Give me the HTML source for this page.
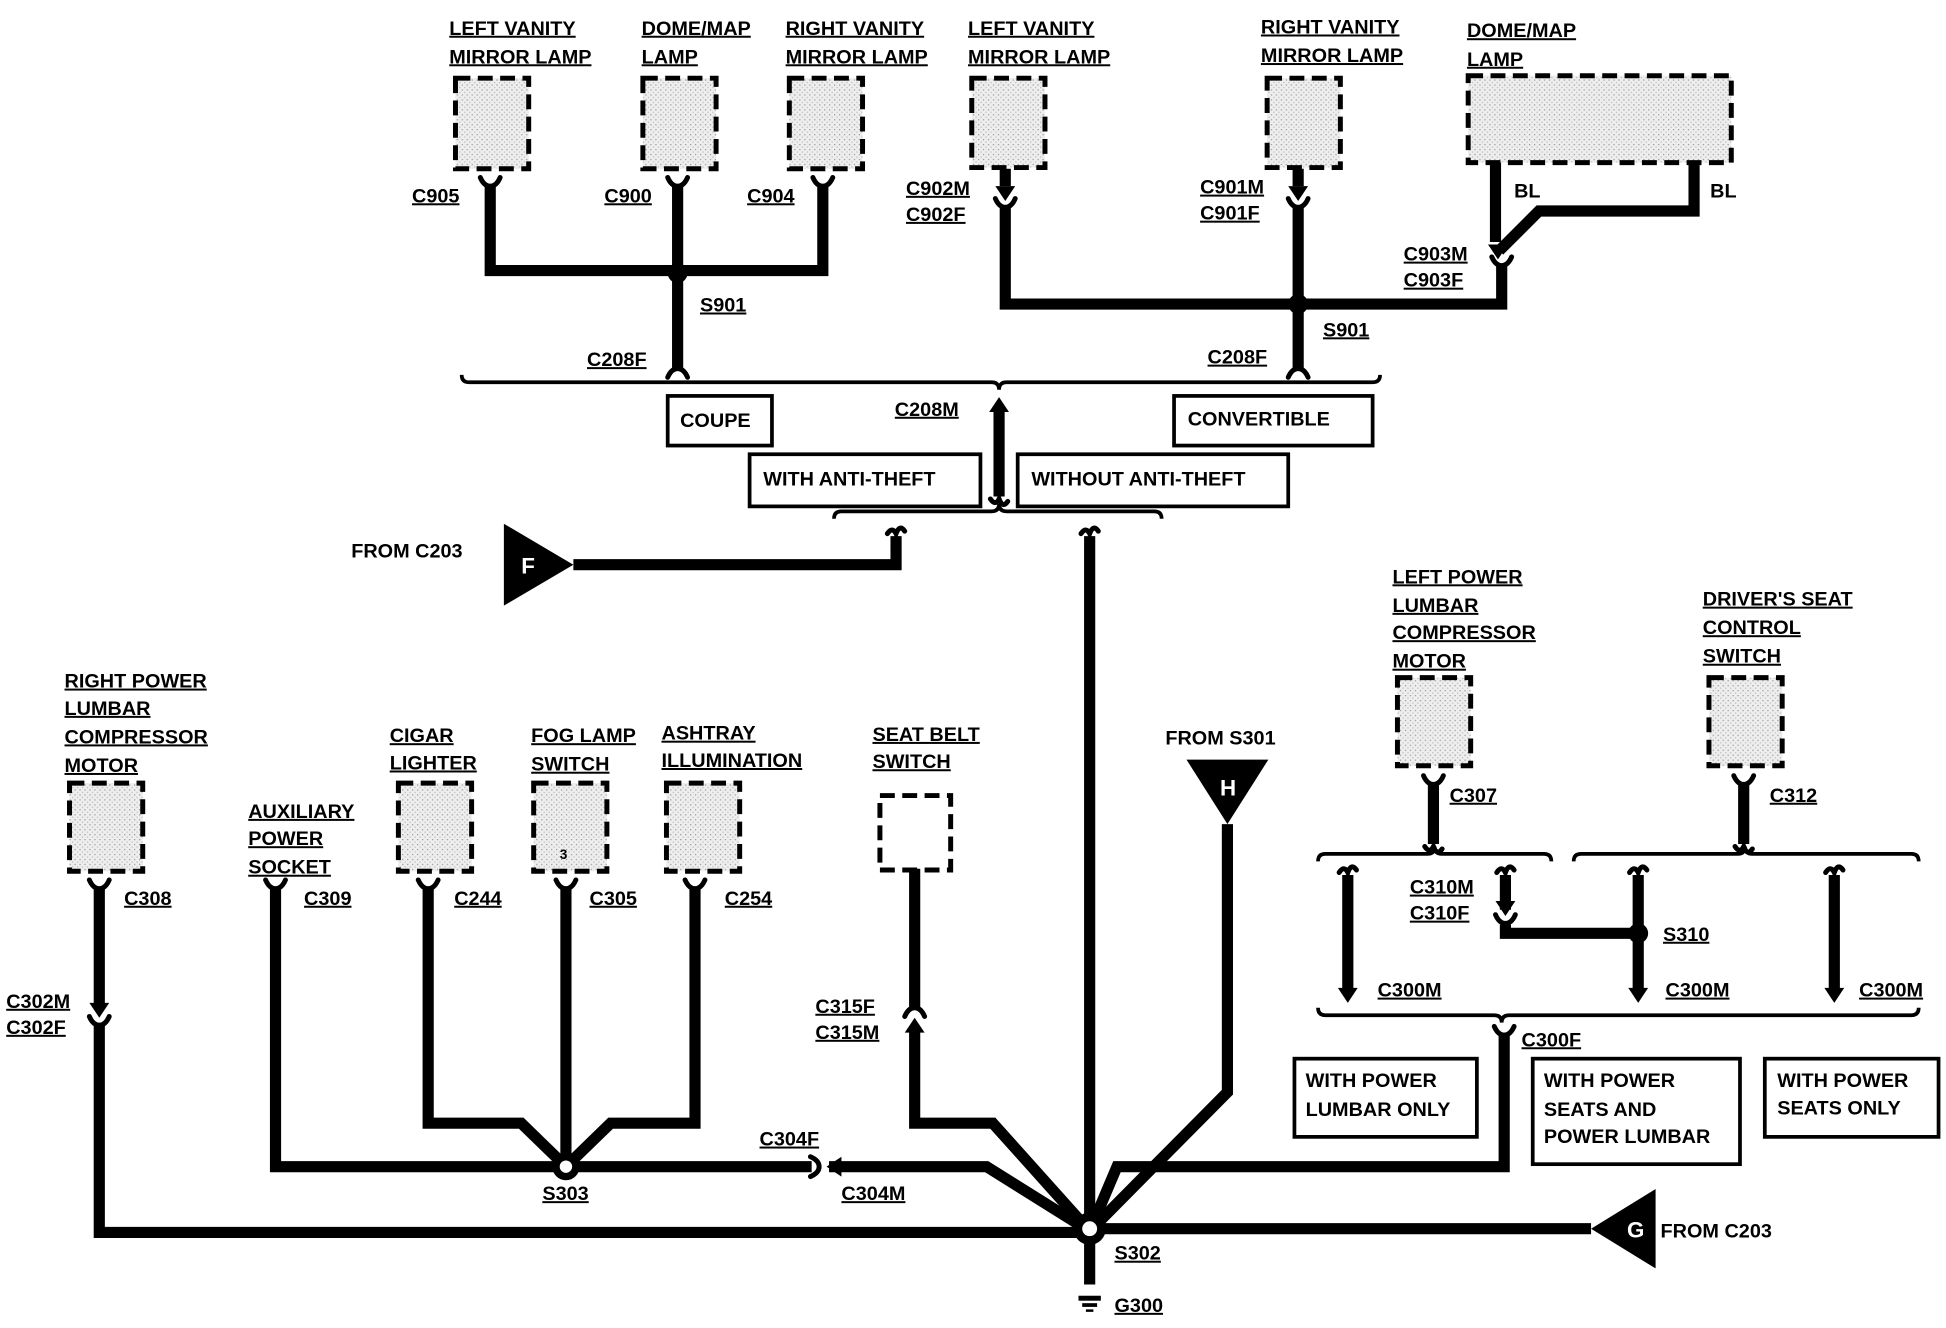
<!DOCTYPE html>
<html><head><meta charset="utf-8"><style>
html,body{margin:0;padding:0;background:#fff;width:1946px;height:1328px;overflow:hidden}
svg{display:block}
text{font-family:"Liberation Sans",sans-serif;font-weight:bold;font-size:16px;fill:#000}
.u{text-decoration:underline}
</style></head><body>
<svg width="1946" height="1328" viewBox="0 0 1568 1070" preserveAspectRatio="none">
<defs>
<pattern id="dot" width="4" height="4" patternUnits="userSpaceOnUse"><rect width="4" height="4" fill="#eee"/><rect width="1" height="1" fill="#999"/><rect x="2" y="2" width="1" height="1" fill="#bbb"/></pattern>
<g id="fu"><path d="M-8,-7 Q-5,0 0,0 Q5,0 8,-7" fill="none" stroke="#000" stroke-width="4" stroke-linecap="round"/></g>
<g id="fd"><path d="M-8,7 Q-5,0 0,0 Q5,0 8,7" fill="none" stroke="#000" stroke-width="4" stroke-linecap="round"/></g>
<g id="ad"><polygon points="-8,-10 8,-10 0,2" fill="#000"/></g>
<g id="au"><polygon points="-8,10 8,10 0,-2" fill="#000"/></g>
<g id="cu"><path d="M-7,-2 Q-3,-8 0,-2 Q3,-10 7,-4" fill="none" stroke="#000" stroke-width="4" stroke-linecap="round"/></g>
<g id="cd"><path d="M-7,2 Q-3,8 0,2 Q3,10 7,4" fill="none" stroke="#000" stroke-width="4" stroke-linecap="round"/></g>
</defs>
<g fill="url(#dot)" stroke="#000" stroke-width="4" stroke-dasharray="12,6">
<rect x="367" y="63" width="59" height="73"/>
<rect x="518" y="63" width="59" height="73"/>
<rect x="636" y="63" width="59" height="73"/>
<rect x="783" y="63" width="59" height="72"/>
<rect x="1021" y="63" width="59" height="72"/>
<rect x="1183" y="61" width="212" height="70"/>
<rect x="1126" y="546" width="59" height="71"/>
<rect x="1377" y="546" width="59" height="71"/>
<rect x="56" y="631" width="59" height="71"/>
<rect x="321" y="631" width="59" height="71"/>
<rect x="430" y="631" width="59" height="71"/>
<rect x="537" y="631" width="59" height="71"/>
<rect x="709" y="641" width="57" height="60" fill="#fff"/>
</g>
<g fill="none" stroke="#000" stroke-width="9" stroke-linejoin="miter">
<path d="M395 150V218H663V150"/>
<path d="M546 150V297"/>
<path d="M810 136V150 M810 166V245H1210V214"/>
<path d="M1046 136V150 M1046 166V297"/>
<path d="M1205 131V195 M1365 131V170H1240L1208 202"/>
<path d="M805 330V400"/>
<path d="M462 455H722V432"/>
<path d="M878 432V1035"/>
<path d="M989 664V880L878 992"/>
<path d="M1282 990H878"/>
<path d="M80 716V810 M80 826V993H878"/>
<path d="M222 716V940H456"/>
<path d="M345 716V905H420L456 940"/>
<path d="M456 716V940"/>
<path d="M560 716V905H492L456 940"/>
<path d="M456 940H654 M668 940H795L878 992"/>
<path d="M737 700V812 M737 828V905H800L878 992"/>
<path d="M1212 832V940H900L878 992"/>
<path d="M1155 632V680 M1405 632V680"/>
<path d="M1086 705V800 M1320 705V800 M1478 705V800"/>
<path d="M1213 705V733 M1213 745V752H1320"/>
</g>
<g>
<use href="#fu" x="395" y="150"/><use href="#fu" x="546" y="150"/><use href="#fu" x="663" y="150"/>
<use href="#fd" x="546" y="297"/><use href="#fd" x="1046" y="297"/>
<use href="#ad" x="810" y="160"/><use href="#fu" x="810" y="167"/>
<use href="#ad" x="1046" y="160"/><use href="#fu" x="1046" y="167"/>
<use href="#ad" x="1207" y="207"/><use href="#fu" x="1210" y="214"/>
<use href="#au" x="805" y="322"/><use href="#cd" x="805" y="400"/>
<use href="#cu" x="722" y="432"/><use href="#cu" x="878" y="432"/>
<use href="#fu" x="1155" y="632"/><use href="#cd" x="1155" y="680"/>
<use href="#fu" x="1405" y="632"/><use href="#cd" x="1405" y="680"/>
<use href="#cu" x="1086" y="705"/><use href="#ad" x="1086" y="806"/>
<use href="#cu" x="1320" y="705"/><use href="#ad" x="1320" y="806"/>
<use href="#cu" x="1478" y="705"/><use href="#ad" x="1478" y="806"/>
<use href="#cu" x="1213" y="705"/><use href="#ad" x="1213" y="736"/><use href="#fu" x="1213" y="744"/>
<use href="#fu" x="1212" y="834"/>
<use href="#fu" x="80" y="716"/><use href="#fu" x="222" y="716"/><use href="#fu" x="345" y="716"/><use href="#fu" x="456" y="716"/><use href="#fu" x="560" y="716"/>
<use href="#ad" x="80" y="818"/><use href="#fu" x="80" y="826"/>
<use href="#fd" x="737" y="812"/><use href="#au" x="737" y="822"/>
<g transform="translate(660,940) rotate(90)"><use href="#fd" x="0" y="0"/></g>
<g transform="translate(668,940) rotate(90)"><use href="#ad" x="0" y="0"/></g>
</g>
<g fill="none" stroke="#000" stroke-width="3">
<path d="M372 302q0 6 6 6H799q6 0 6 6q0-6 6-6H1106q6 0 6-6"/>
<path d="M672 418q0-6 6-6H799q6 0 6-6q0 6 6 6H930q6 0 6 6"/>
<path d="M1062 694q0-6 6-6H1150q6 0 6-6q0 6 6 6H1244q6 0 6 6"/>
<path d="M1268 694q0-6 6-6H1400q6 0 6-6q0 6 6 6H1540q6 0 6 6"/>
<path d="M1062 812q0 6 6 6H1204q6 0 6 6q0-6 6-6H1540q6 0 6-6"/>
<rect x="538" y="319" width="84" height="40"/>
<rect x="946" y="319" width="160" height="40"/>
<rect x="604" y="366" width="186" height="42"/>
<rect x="820" y="366" width="218" height="42"/>
<rect x="1043" y="853" width="147" height="63"/>
<rect x="1235" y="853" width="167" height="85"/>
<rect x="1422" y="853" width="140" height="63"/>
</g>
<g fill="#000">
<circle cx="546" cy="220" r="8"/><circle cx="1046" cy="245" r="8"/><circle cx="1320" cy="752" r="8"/>
<circle cx="456" cy="940" r="11"/><circle cx="878" cy="990" r="13"/>
<polygon points="406,422 406,488 462,455"/>
<polygon points="956,612 1022,612 989,664"/>
<polygon points="1282,990 1334,958 1334,1022"/>
<rect x="869" y="1044" width="18" height="4"/><rect x="872" y="1050" width="12" height="3"/><rect x="875" y="1055" width="6" height="2"/>
</g>
<circle cx="456" cy="940" r="5" fill="#fff"/><circle cx="878" cy="990" r="6" fill="#fff"/>
<text x="420" y="462" style="fill:#fff;font-size:18px">F</text>
<text x="983" y="641" style="fill:#fff;font-size:18px">H</text>
<text x="1311" y="997" style="fill:#fff;font-size:18px">G</text>
<g style="font-size:16.5px">
<text x="362" y="28" class="u">LEFT VANITY</text><text x="362" y="51" class="u">MIRROR LAMP</text>
<text x="517" y="28" class="u">DOME/MAP</text><text x="517" y="51" class="u">LAMP</text>
<text x="633" y="28" class="u">RIGHT VANITY</text><text x="633" y="51" class="u">MIRROR LAMP</text>
<text x="780" y="28" class="u">LEFT VANITY</text><text x="780" y="51" class="u">MIRROR LAMP</text>
<text x="1016" y="27" class="u">RIGHT VANITY</text><text x="1016" y="50" class="u">MIRROR LAMP</text>
<text x="1182" y="30" class="u">DOME/MAP</text><text x="1182" y="53" class="u">LAMP</text>
<text x="332" y="163" class="u">C905</text><text x="487" y="163" class="u">C900</text><text x="602" y="163" class="u">C904</text>
<text x="730" y="157" class="u">C902M</text><text x="730" y="178" class="u">C902F</text>
<text x="967" y="156" class="u">C901M</text><text x="967" y="177" class="u">C901F</text>
<text x="1131" y="210" class="u">C903M</text><text x="1131" y="231" class="u">C903F</text>
<text x="564" y="251" class="u">S901</text><text x="1066" y="271" class="u">S901</text>
<text x="473" y="295" class="u">C208F</text><text x="973" y="293" class="u">C208F</text>
<text x="721" y="335" class="u">C208M</text>
<text x="1122" y="470" class="u">LEFT POWER</text><text x="1122" y="493" class="u">LUMBAR</text><text x="1122" y="515" class="u">COMPRESSOR</text><text x="1122" y="538" class="u">MOTOR</text>
<text x="1372" y="488" class="u">DRIVER'S SEAT</text><text x="1372" y="511" class="u">CONTROL</text><text x="1372" y="534" class="u">SWITCH</text>
<text x="52" y="554" class="u">RIGHT POWER</text><text x="52" y="576" class="u">LUMBAR</text><text x="52" y="599" class="u">COMPRESSOR</text><text x="52" y="622" class="u">MOTOR</text>
<text x="314" y="598" class="u">CIGAR</text><text x="314" y="620" class="u">LIGHTER</text>
<text x="428" y="598" class="u">FOG LAMP</text><text x="428" y="621" class="u">SWITCH</text>
<text x="533" y="596" class="u">ASHTRAY</text><text x="533" y="618" class="u">ILLUMINATION</text>
<text x="703" y="597" class="u">SEAT BELT</text><text x="703" y="619" class="u">SWITCH</text>
<text x="200" y="659" class="u">AUXILIARY</text><text x="200" y="681" class="u">POWER</text><text x="200" y="704" class="u">SOCKET</text>
<text x="1168" y="646" class="u">C307</text><text x="1426" y="646" class="u">C312</text>
<text x="100" y="729" class="u">C308</text><text x="245" y="729" class="u">C309</text><text x="366" y="729" class="u">C244</text><text x="475" y="729" class="u">C305</text><text x="584" y="729" class="u">C254</text>
<text x="1136" y="720" class="u">C310M</text><text x="1136" y="741" class="u">C310F</text>
<text x="1340" y="758" class="u">S310</text>
<text x="1110" y="803" class="u">C300M</text><text x="1342" y="803" class="u">C300M</text><text x="1498" y="803" class="u">C300M</text>
<text x="1226" y="843" class="u">C300F</text>
<text x="5" y="812" class="u">C302M</text><text x="5" y="833" class="u">C302F</text>
<text x="657" y="816" class="u">C315F</text><text x="657" y="837" class="u">C315M</text>
<text x="612" y="923" class="u">C304F</text><text x="678" y="967" class="u">C304M</text>
<text x="437" y="967" class="u">S303</text><text x="898" y="1015" class="u">S302</text><text x="898" y="1057" class="u">G300</text>
<text x="1220" y="159">BL</text><text x="1378" y="159">BL</text>
<text x="548" y="344">COUPE</text><text x="957" y="343">CONVERTIBLE</text>
<text x="615" y="391">WITH ANTI-THEFT</text><text x="831" y="391">WITHOUT ANTI-THEFT</text>
<text x="283" y="449">FROM C203</text><text x="939" y="600">FROM S301</text><text x="1338" y="997">FROM C203</text>
<text x="1052" y="876">WITH POWER</text><text x="1052" y="899">LUMBAR ONLY</text>
<text x="1244" y="876">WITH POWER</text><text x="1244" y="899">SEATS AND</text><text x="1244" y="921">POWER LUMBAR</text>
<text x="1432" y="876">WITH POWER</text><text x="1432" y="898">SEATS ONLY</text>
</g>
<text x="451" y="692" style="font-size:11px">3</text>
</svg>
</body></html>
